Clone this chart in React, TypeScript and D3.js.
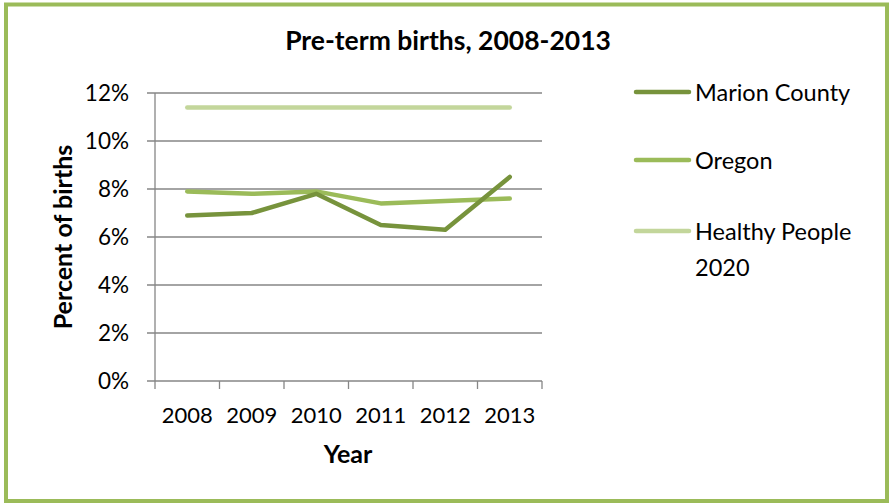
import * as d3 from 'd3';
import { useEffect, useRef } from 'react';

const years = ['2008', '2009', '2010', '2011', '2012', '2013'];
const marion = [6.9, 7.0, 7.8, 6.5, 6.3, 8.5];
const oregon = [7.9, 7.8, 7.9, 7.4, 7.5, 7.6];
const healthyPeople = [11.4, 11.4, 11.4, 11.4, 11.4, 11.4];
const yTicks = [0, 2, 4, 6, 8, 10, 12];

const seriesNames = ['Marion County', 'Oregon', 'Healthy People 2020'];
const seriesColors = ['#77933c', '#9bbb59', '#c3d69b'];

const W = 891;
const H = 504;
const FONT = 'Lato, "Open Sans", sans-serif';

export default function App() {
  const ref = useRef<SVGSVGElement>(null);

  useEffect(() => {
    const svg = d3.select(ref.current);
    svg.selectAll('*').remove();

    svg.append('rect')
      .attr('width', W).attr('height', H).attr('fill', '#fff');

    // outer border
    svg.append('rect')
      .attr('x', 6).attr('y', 4.5)
      .attr('width', 881).attr('height', 496.5)
      .attr('fill', 'none')
      .attr('stroke', '#9bbb59')
      .attr('stroke-width', 4);

    const left = 155, right = 542, top = 93, bottom = 381;

    const x = d3.scaleBand().domain(years).range([left, right]);
    const y = d3.scaleLinear().domain([0, 12]).range([bottom, top]);

    // gridlines
    svg.selectAll('.grid')
      .data(yTicks)
      .enter()
      .append('line')
      .attr('x1', left - 8).attr('x2', right)
      .attr('y1', (d) => y(d)).attr('y2', (d) => y(d))
      .attr('stroke', '#868686').attr('stroke-width', 1.3);

    // y axis line
    svg.append('line')
      .attr('x1', left).attr('x2', left)
      .attr('y1', top).attr('y2', bottom)
      .attr('stroke', '#868686').attr('stroke-width', 1.3);

    // x ticks
    const xt = years.map((yr) => x(yr) || 0).concat([right]);
    svg.selectAll('.xtick')
      .data(xt)
      .enter()
      .append('line')
      .attr('x1', (d) => d).attr('x2', (d) => d)
      .attr('y1', bottom).attr('y2', bottom + 8)
      .attr('stroke', '#868686').attr('stroke-width', 1.3);

    // y labels
    svg.selectAll('.ylab')
      .data(yTicks)
      .enter()
      .append('text')
      .attr('x', 129).attr('y', (d) => y(d) + 8)
      .attr('text-anchor', 'end')
      .attr('font-family', FONT).attr('font-size', 22.5)
      .text((d) => d + '%');

    // x labels
    svg.selectAll('.xlab')
      .data(years)
      .enter()
      .append('text')
      .attr('x', (d) => (x(d) || 0) + x.bandwidth() / 2)
      .attr('y', 423)
      .attr('text-anchor', 'middle')
      .attr('font-family', FONT).attr('font-size', 22)
      .text((d) => d);

    // title
    svg.append('text')
      .attr('x', 448).attr('y', 50)
      .attr('text-anchor', 'middle')
      .attr('font-family', FONT).attr('font-size', 26.5).attr('font-weight', 'bold')
      .text('Pre-term births, 2008-2013');

    svg.append('text')
      .attr('x', 348).attr('y', 463)
      .attr('text-anchor', 'middle')
      .attr('font-family', FONT).attr('font-size', 25).attr('font-weight', 'bold')
      .text('Year');

    svg.append('text')
      .attr('transform', 'translate(72,237) rotate(-90)')
      .attr('text-anchor', 'middle')
      .attr('font-family', FONT).attr('font-size', 25).attr('font-weight', 'bold')
      .text('Percent of births');

    // lines
    const line = d3.line<number>()
      .x((_, i) => (x(years[i]) || 0) + x.bandwidth() / 2)
      .y((d) => y(d));

    const allSeries = [marion, oregon, healthyPeople];
    [2, 1, 0].forEach((k) => {
      svg.append('path')
        .datum(allSeries[k])
        .attr('d', line)
        .attr('fill', 'none')
        .attr('stroke', seriesColors[k])
        .attr('stroke-width', 4.5)
        .attr('stroke-linecap', 'round')
        .attr('stroke-linejoin', 'round');
    });

    // legend
    const legendY = [92, 160, 231];
    seriesNames.forEach((name, i) => {
      svg.append('line')
        .attr('x1', 636).attr('x2', 689)
        .attr('y1', legendY[i]).attr('y2', legendY[i])
        .attr('stroke', seriesColors[i])
        .attr('stroke-width', 4.5)
        .attr('stroke-linecap', 'round');
    });
    const lt = [
      { t: 'Marion County', y: 92 },
      { t: 'Oregon', y: 160 },
      { t: 'Healthy People', y: 231 },
      { t: '2020', y: 267 },
    ];
    svg.selectAll('.leg')
      .data(lt)
      .enter()
      .append('text')
      .attr('x', 695).attr('y', (d) => d.y + 8.5)
      .attr('font-family', FONT).attr('font-size', 23.5)
      .text((d) => d.t);
  }, []);

  return (
    <svg ref={ref} width={W} height={H} style={{ position: 'absolute', left: 0, top: 0 }} />
  );
}
